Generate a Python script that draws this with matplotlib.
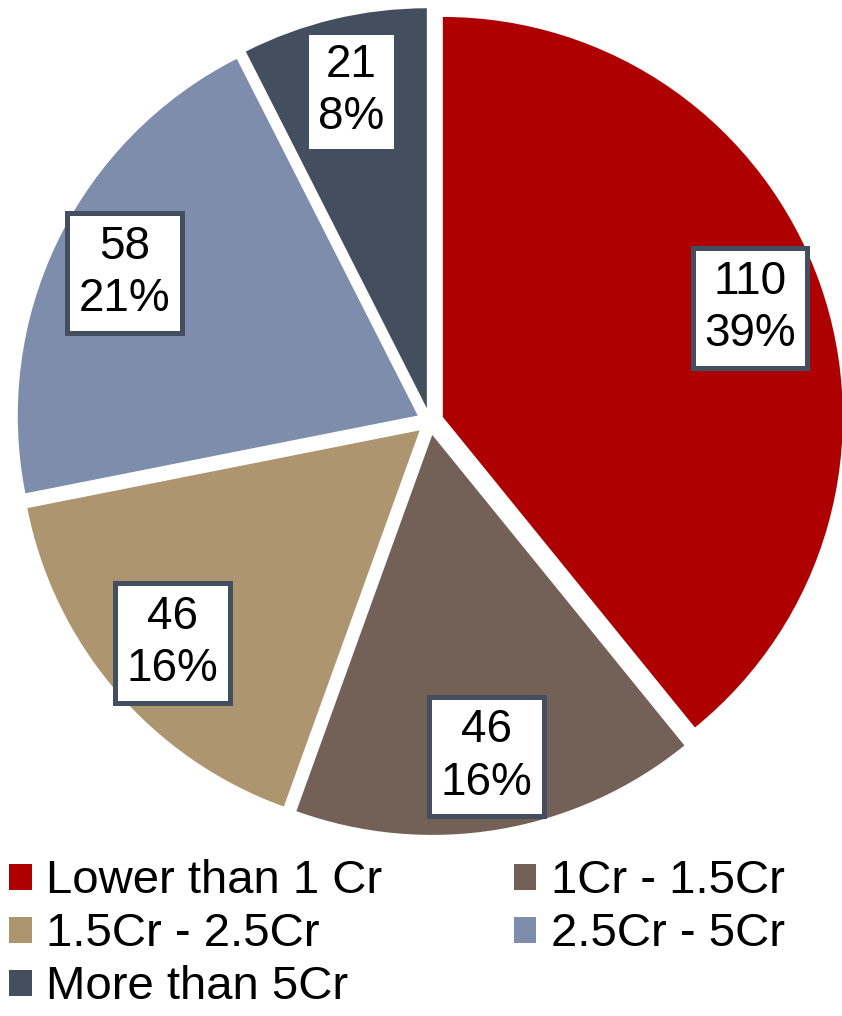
import matplotlib
matplotlib.use("Agg")
import matplotlib.pyplot as plt
import numpy as np

categories = ["Lower than 1 Cr", "1Cr - 1.5Cr", "1.5Cr - 2.5Cr", "2.5Cr - 5Cr", "More than 5Cr"]
values = [110, 46, 46, 58, 21]
pct_labels = ["39%", "16%", "16%", "21%", "8%"]
colors = ["#AE0000", "#736158", "#AD956F", "#7E8DAB", "#434E5E"]
box_edge = "#434E5E"

plt.rcParams['font.family'] = ['Liberation Sans', 'DejaVu Sans']

W, H = 842, 1016
fig = plt.figure(figsize=(W / 100, H / 100), dpi=100)
cx, cy, R = 430, 421.5, 400
ax = fig.add_axes([(cx - R) / W, (H - cy - R) / H, 2 * R / W, 2 * R / H])

explode_amt = 0.034
wedges, _ = ax.pie(values, colors=colors, startangle=90, counterclock=False,
                   explode=[explode_amt] * len(values), radius=1,
                   wedgeprops=dict(linewidth=0))
ax.set_xlim(-1, 1)
ax.set_ylim(-1, 1)
ax.set_aspect('equal')
ax.axis('off')

label_r = 0.815
for w, v, p in zip(wedges, values, pct_labels):
    ang = np.deg2rad((w.theta1 + w.theta2) / 2)
    r = label_r + explode_amt
    ax.text(r * np.cos(ang), r * np.sin(ang), f"{v}\n{p}", ha='center', va='center',
            fontsize=33, linespacing=1.25, color='black',
            bbox=dict(boxstyle='square,pad=0.25', fc='white', ec=box_edge, lw=3.6),
            clip_on=False)

order = [0, 2, 4, 1, 3]
leg = fig.legend([wedges[i] for i in order], [categories[i] for i in order],
                 loc='upper left', bbox_to_anchor=(0.0, 1 - 850 / H), ncol=2,
                 frameon=False, fontsize=34, handlelength=0.47, handleheight=0.47,
                 handletextpad=0.3, columnspacing=2.8, labelspacing=0.19,
                 borderaxespad=0, borderpad=0.2)

fig.savefig("out.png", dpi=100)
